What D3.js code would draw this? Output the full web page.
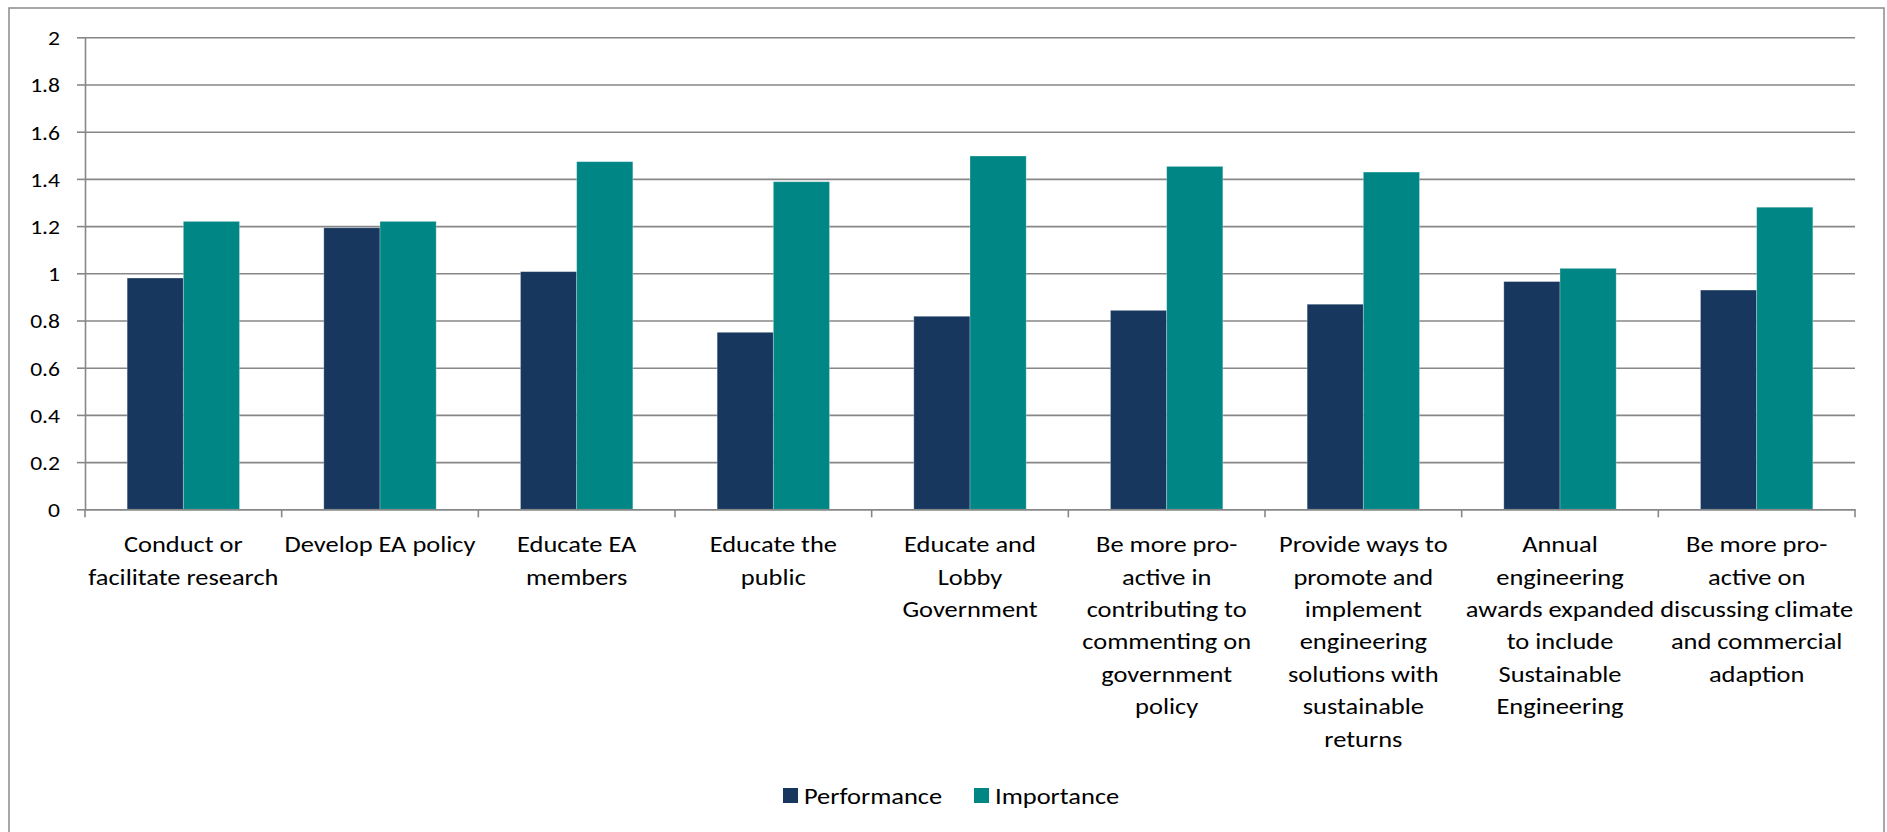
<!DOCTYPE html>
<html>
<head>
<meta charset="utf-8">
<script src="https://cdn.jsdelivr.net/npm/d3@7"></script>
<style>
  html, body { margin: 0; padding: 0; background: #fff; }
  svg { display: block; }
  text { font-family: Carlito, Lato, "Liberation Sans", sans-serif; fill: #000; }
</style>
</head>
<body>
<svg id="chart" width="1887" height="832"></svg>
<script>
// Category labels (line breaks mark where each axis label wraps)
const categories = [
  "Conduct or\nfacilitate research",
  "Develop EA policy",
  "Educate EA\nmembers",
  "Educate the\npublic",
  "Educate and\nLobby\nGovernment",
  "Be more pro-\nactive in\ncontributing to\ncommenting on\ngovernment\npolicy",
  "Provide ways to\npromote and\nimplement\nengineering\nsolutions with\nsustainable\nreturns",
  "Annual\nengineering\nawards expanded\nto include\nSustainable\nEngineering",
  "Be more pro-\nactive on\ndiscussing climate\nand commercial\nadaption"
];
const seriesNames = ["Performance", "Importance"];
const performance = [0.98, 1.193, 1.007, 0.75, 0.818, 0.843, 0.869, 0.965, 0.929];
const importance  = [1.22, 1.22, 1.473, 1.388, 1.497, 1.453, 1.429, 1.021, 1.28];
const yTicks = [0, 0.2, 0.4, 0.6, 0.8, 1, 1.2, 1.4, 1.6, 1.8, 2];
const yTickLabels = ["0", "0.2", "0.4", "0.6", "0.8", "1", "1.2", "1.4", "1.6", "1.8", "2"];

const colors = { Performance: "#17375E", Importance: "#008785" };
const gridColor = "#878787";
const textStretch = 1.15;   // widen glyphs horizontally

const svg = d3.select("#chart");

// Outer chart frame
svg.append("rect")
  .attr("x", 9).attr("y", 8)
  .attr("width", 1875).attr("height", 840)
  .attr("fill", "none")
  .attr("stroke", "#8a8a8a")
  .attr("stroke-width", 1.5);

const plot = { left: 85, right: 1855, top: 37.3, bottom: 509.3 };

const x = d3.scaleBand()
  .domain(categories)
  .range([plot.left, plot.right])
  .paddingInner(0.4286)
  .paddingOuter(0.2143);

const xSeries = d3.scaleBand()
  .domain(seriesNames)
  .range([0, x.bandwidth()]);

const y = d3.scaleLinear()
  .domain([0, 2])
  .range([plot.bottom, plot.top]);

// Horizontal gridlines
const grid = svg.append("g")
  .attr("transform", `translate(${plot.left},0)`)
  .call(d3.axisLeft(y).tickValues(yTicks).tickSize(-(plot.right - plot.left)).tickFormat(""));
grid.select(".domain").remove();
grid.selectAll("line").attr("stroke", gridColor).attr("stroke-width", 1.6);

// Bars
const rows = categories.map((c, i) => ({ cat: c, values: [
  { key: "Performance", value: performance[i] },
  { key: "Importance", value: importance[i] }
]}));

const groups = svg.append("g").selectAll("g")
  .data(rows)
  .join("g")
  .attr("transform", d => `translate(${x(d.cat)},0)`);

groups.selectAll("rect")
  .data(d => d.values)
  .join("rect")
  .attr("x", d => xSeries(d.key))
  .attr("y", d => y(d.value))
  .attr("width", xSeries.bandwidth())
  .attr("height", d => y(0) - y(d.value))
  .attr("fill", d => colors[d.key])
  .attr("stroke", "rgba(255,255,255,0.35)")
  .attr("stroke-width", 0.8);

// Y axis
const yAxis = svg.append("g")
  .attr("transform", `translate(${plot.left},0)`)
  .call(d3.axisLeft(y).tickValues(yTicks).tickSize(8).tickSizeOuter(0)
    .tickFormat((d, i) => yTickLabels[i]));
yAxis.select(".domain").attr("stroke", gridColor).attr("stroke-width", 1.6);
yAxis.selectAll(".tick line").attr("stroke", gridColor).attr("stroke-width", 1.6);
yAxis.selectAll(".tick text")
  .attr("x", 0)
  .attr("dy", "0.36em")
  .attr("transform", `translate(-25,0) scale(${textStretch},1)`)
  .style("font-size", "20.5px");

// X axis line with tick marks on category boundaries
const xAxis = svg.append("g")
  .attr("transform", `translate(0,${plot.bottom})`)
  .call(d3.axisBottom(x).tickSize(0).tickFormat(""));
xAxis.select(".domain").attr("stroke", gridColor).attr("stroke-width", 1.6);
xAxis.selectAll(".tick").remove();

const boundaries = d3.range(categories.length + 1).map(i => x.range()[0] + i * x.step());
xAxis.selectAll("line.boundary")
  .data(boundaries)
  .join("line")
  .attr("class", "boundary")
  .attr("x1", d => d).attr("x2", d => d)
  .attr("y1", 0).attr("y2", 8)
  .attr("stroke", gridColor)
  .attr("stroke-width", 1.6);

// Wrapped category labels
const lineHeight = 32.4;
const labels = svg.append("g").selectAll("text")
  .data(categories)
  .join("text")
  .attr("text-anchor", "middle")
  .attr("transform", d => `translate(${x(d) + x.bandwidth() / 2},544) scale(${textStretch},1)`)
  .style("font-size", "23px");
labels.selectAll("tspan")
  .data(d => d.split("\n"))
  .join("tspan")
  .attr("x", 0)
  .attr("dy", (d, i) => i === 0 ? "0.36em" : lineHeight)
  .text(d => d);

// Legend
const legendItems = [
  { key: "Performance", x: 783, tx: 804 },
  { key: "Importance", x: 974, tx: 995 }
];
const legend = svg.append("g");
legend.selectAll("rect")
  .data(legendItems)
  .join("rect")
  .attr("x", d => d.x).attr("y", 788)
  .attr("width", 15).attr("height", 15)
  .attr("fill", d => colors[d.key]);
legend.selectAll("text")
  .data(legendItems)
  .join("text")
  .attr("transform", d => `translate(${d.tx},795.5) scale(${textStretch},1)`)
  .attr("dy", "0.36em")
  .style("font-size", "23px")
  .text(d => d.key);
</script>
</body>
</html>
